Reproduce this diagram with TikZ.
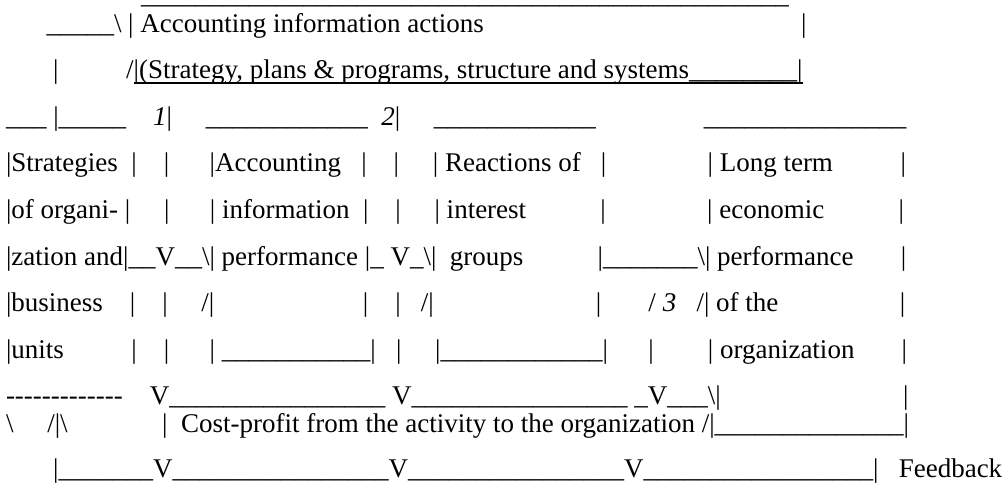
\documentclass[tikz,border=0pt]{standalone}
\usepackage{fontspec}
\setmainfont{Liberation Serif}
\newcommand\mysk[1]{\hspace*{#1\fontdimen2\font}}
\ExplSyntaxOn
\NewDocumentCommand\myus{m}{\prg_replicate:nn{#1}{\textunderscore}}
\NewDocumentCommand\myhy{m}{\prg_replicate:nn{#1}{\hbox{-}}}
\ExplSyntaxOff
\newcommand\mybs{\textbackslash}
\tikzset{
  row/.style={anchor=base west, inner sep=0pt, outer sep=0pt,
              font=\fontsize{27}{30}\selectfont, text=black},
  uline/.style={line width=1.5pt, black}
}
\begin{document}
\begin{tikzpicture}[x=1pt,y=-1pt]
\useasboundingbox (0,0) rectangle (1004,488);
\def\xo{6}
\node[row] (r0) at (\xo,3.5) {\mysk{20}\myus{48}};
\node[row] (r1) at (\xo,32.5) {\mysk{6}\myus{5}\mybs\mysk{1}|\mysk{1}Accounting information actions\mysk{47}|};
\node[row] (r2a) at (\xo,78.6) {\mysk{7}|\mysk{10}/};
\node[row] (r2b) at (r2a.base east) {|(Strategy, plans \& programs, structure and systems\myus{8}|};
\draw[uline] ([yshift=-4.4pt]r2b.base west) -- ([yshift=-4.4pt]r2b.base east);
\node[row] (r3) at (\xo,125.2) {\myus{3}\mysk{1}|\myus{5}\mysk{4}\textit{1}|\mysk{5}\myus{12}\mysk{2}\textit{2}|\mysk{5}\myus{12}\mysk{16}\myus{15}};
\node[row] (r4) at (\xo,171.8) {|Strategies\mysk{2}|\mysk{4}|\mysk{6}|Accounting\mysk{3}|\mysk{4}|\mysk{5}|\mysk{1}Reactions of\mysk{3}|\mysk{15}|\mysk{1}Long term\mysk{10}|};
\node[row] (r5) at (\xo,218.4) {|of organi-\mysk{1}|\mysk{5}|\mysk{6}|\mysk{1}information\mysk{2}|\mysk{4}|\mysk{5}|\mysk{1}interest\mysk{11}|\mysk{15}|\mysk{1}economic\mysk{11}|};
\node[row] (r6) at (\xo,265) {|zation and|\myus{2}V\myus{2}\mybs|\mysk{1}performance\mysk{1}|\myus{1}\mysk{1}V\myus{1}\mybs|\mysk{2}groups\mysk{11}|\myus{7}\mybs|\mysk{1}performance\mysk{7}|};
\node[row] (r7) at (\xo,311.6) {|business\mysk{4}|\mysk{4}|\mysk{5}/|\mysk{22}|\mysk{4}|\mysk{3}/|\mysk{24}|\mysk{7}/\mysk{1}\textit{3}\mysk{3}/|\mysk{1}of the\mysk{18}|};
\node[row] (r8) at (\xo,358.2) {|units\mysk{10}|\mysk{4}|\mysk{6}|\mysk{1}\myus{11}|\mysk{3}|\mysk{5}|\myus{12}|\mysk{6}|\mysk{8}|\mysk{1}organization\mysk{7}|};
\node[row] (r9) at (\xo,404.8) {\myhy{13}\mysk{4}V\myus{16}\mysk{1}V\myus{16}\mysk{1}\myus{1}V\myus{3}\mybs|\mysk{27}|};
\node[row] (r10) at (\xo,432) {\mybs\mysk{5}/|\mybs\mysk{14}|\mysk{2}Cost-profit from the activity to the organization\mysk{1}/|\myus{14}|};
\node[row] (r11) at (\xo,477) {\mysk{7}|\myus{7}V\myus{16}V\myus{16}V\myus{17}|\mysk{3}Feedback};
\end{tikzpicture}
\end{document}
